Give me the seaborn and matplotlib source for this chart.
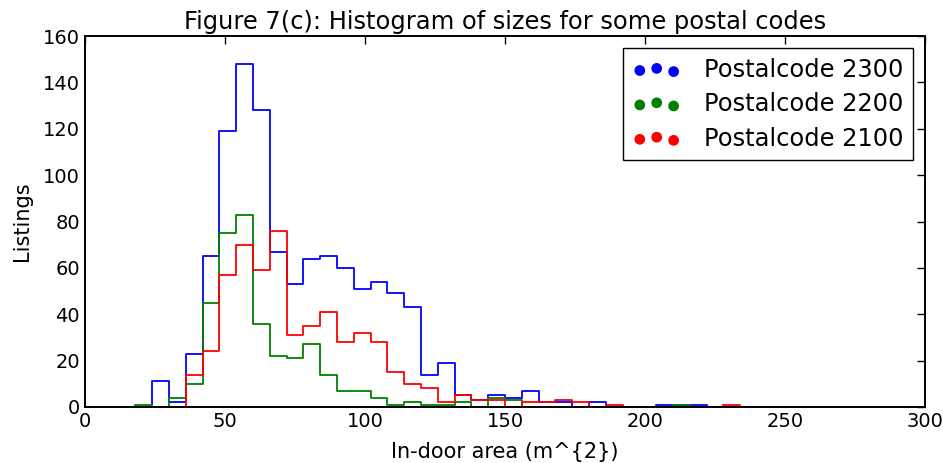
import numpy as np
import pandas as pd
import matplotlib
matplotlib.use("Agg")
import matplotlib.pyplot as plt
import seaborn as sns

# Histogram bins (m^2): first edge and width
bin_start = 18
bin_width = 6

# Counts per bin (bins 18-24, 24-30, ..., 228-234)
counts_2300 = [0, 11, 2, 23, 65, 119, 148, 128, 67, 53, 64, 65, 60, 51, 54, 49, 43, 14,
               19, 5, 3, 5, 4, 7, 2, 2, 0, 2, 0, 0, 0, 1, 1, 1, 0, 0]
counts_2200 = [1, 0, 4, 10, 45, 75, 83, 36, 22, 21, 27, 14, 7, 7, 4, 1, 2, 1,
               1, 2, 0, 4, 3, 0, 0, 0, 0, 0, 0, 0, 0, 0, 1, 0, 0, 0]
counts_2100 = [0, 0, 0, 14, 24, 57, 70, 59, 76, 31, 35, 41, 28, 32, 28, 15, 10, 8,
               2, 5, 3, 3, 0, 2, 2, 3, 2, 0, 1, 0, 0, 0, 0, 0, 0, 1]

labels = ["Postalcode 2300", "Postalcode 2200", "Postalcode 2100"]
colors = ["blue", "green", "red"]
x_ticks = [0, 50, 100, 150, 200, 250, 300]
y_ticks = [0, 20, 40, 60, 80, 100, 120, 140, 160]

sns.set_style("white")
plt.rcParams['font.family'] = ['DejaVu Sans']
plt.rcParams['text.color'] = 'black'
plt.rcParams['axes.labelcolor'] = 'black'
plt.rcParams['xtick.color'] = 'black'
plt.rcParams['ytick.color'] = 'black'

fig = plt.figure(figsize=(9.43, 4.63), dpi=100)
ax = fig.add_axes([0.0901, 0.121, 0.8909, 0.801])

n = len(counts_2300)
edges = [float(bin_start - bin_width + bin_width * i) for i in range(n + 3)]
centers = [e + bin_width / 2 for e in edges[:-1]]

for counts, col, lab in zip([counts_2300, counts_2200, counts_2100], colors, labels):
    vals = [0] + list(counts) + [0]
    df = pd.DataFrame({"area": centers, "count": vals})
    sns.histplot(data=df, x="area", weights="count", bins=edges, element="step",
                 fill=False, color=col, linewidth=1.3, ax=ax)

ax.set_xlim(0, 300)
ax.set_ylim(0, 160)
ax.set_xticks(x_ticks)
ax.set_yticks(y_ticks)
ax.tick_params(direction="in", length=6, width=1, top=True, right=True,
               labelsize=14, colors="black")
for sp in ax.spines.values():
    sp.set_visible(True)
    sp.set_color("black")
    sp.set_linewidth(1.4)
    sp.set_zorder(5)

ax.set_title("Figure 7(c): Histogram of sizes for some postal codes", fontsize=17.4,
             pad=5, color="black")
ax.set_xlabel("In-door area (m^{2})", fontsize=15, labelpad=8)
ax.set_ylabel("Listings", fontsize=15, labelpad=8)

handles = [ax.scatter([], [], color=c, s=45, label=l) for c, l in zip(colors, labels)]
leg = ax.legend(handles=handles, loc="upper right", scatterpoints=3,
                scatteryoffsets=[0.375, 0.5, 0.3125], fontsize=17.4, frameon=True,
                fancybox=False, edgecolor="black", framealpha=1, labelspacing=0.43,
                handletextpad=0.95, borderpad=0.4)
leg.get_frame().set_linewidth(1)
for t in leg.get_texts():
    t.set_color("black")

fig.savefig("out.png", dpi=100)
